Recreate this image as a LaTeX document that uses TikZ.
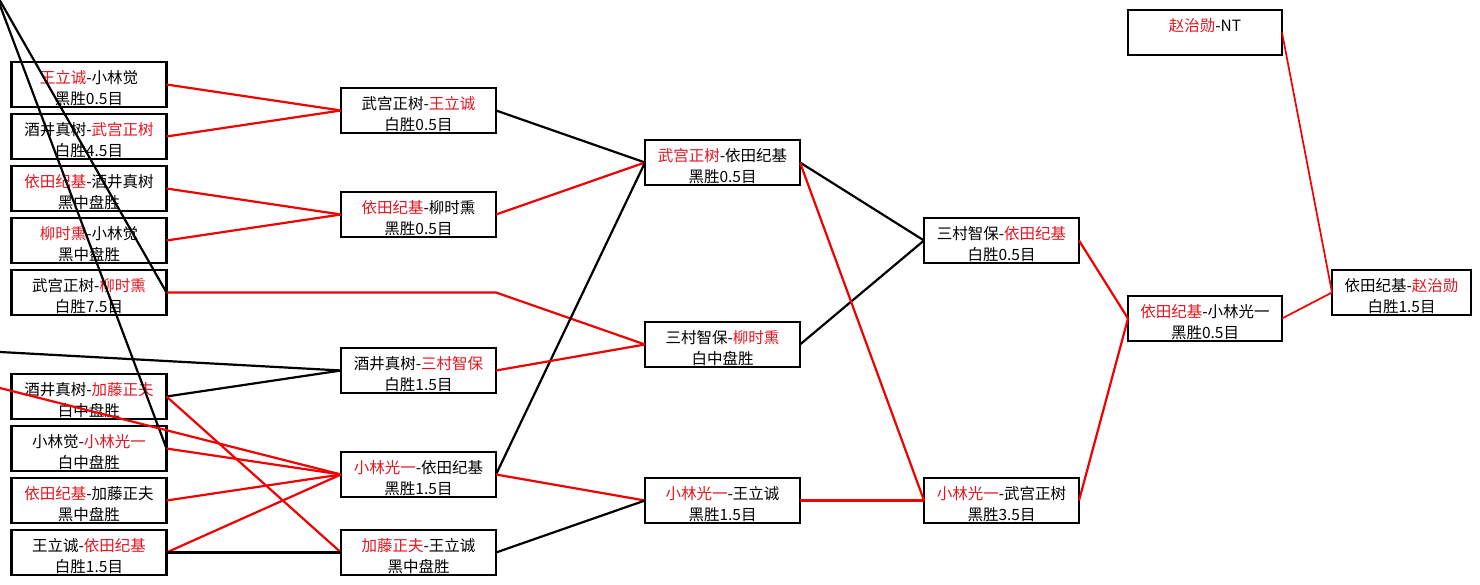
\documentclass[tikz,border=0pt]{standalone}
\usepackage{fontspec}
\newfontfamily\cjk{Noto Sans CJK SC}
\definecolor{rtxt}{RGB}{228,22,32}
\definecolor{rline}{RGB}{240,0,0}
\newcommand\rd[1]{\textcolor{rtxt}{#1}}
\newcommand\tp{\rule{0pt}{20pt}}
\tikzset{
  box/.style={draw=black, line width=2.2pt, rectangle, inner sep=0pt, outer sep=0pt,
    minimum width=155pt, minimum height=45pt, align=center,
    font=\cjk\fontsize{15.5}{20.5}\selectfont},
  rl/.style={draw=rline, line width=2.2pt},
  bl/.style={draw=black, line width=2.2pt},
  rlt/.style={draw=rline, line width=1.7pt},
}
\begin{document}
\begin{tikzpicture}[x=1pt,y=-1pt]
\useasboundingbox (0,0) rectangle (1480,585);
\fill[white] (0,0) rectangle (1480,585);
% column 1
\node[box] (b1) at (89,84.5) {\tp\rd{王立诚}-小林觉\\黑胜0.5目};
\node[box] (b2) at (89,136.5) {\tp 酒井真树-\rd{武宫正树}\\白胜4.5目};
\node[box] (b3) at (89,188.5) {\tp\rd{依田纪基}-酒井真树\\黑中盘胜};
\node[box] (b4) at (89,240.5) {\tp\rd{柳时熏}-小林觉\\黑中盘胜};
\node[box] (b5) at (89,292.5) {\tp 武宫正树-\rd{柳时熏}\\白胜7.5目};
\node[box] (b6) at (89,396.5) {\tp 酒井真树-\rd{加藤正夫}\\白中盘胜};
\node[box] (b7) at (89,448.5) {\tp 小林觉-\rd{小林光一}\\白中盘胜};
\node[box] (b8) at (89,500.5) {\tp\rd{依田纪基}-加藤正夫\\黑中盘胜};
\node[box] (b9) at (89,552.5) {\tp 王立诚-\rd{依田纪基}\\白胜1.5目};
% column 2
\node[box] (A) at (418.5,110.5) {\tp 武宫正树-\rd{王立诚}\\白胜0.5目};
\node[box] (B) at (418.5,214.5) {\tp\rd{依田纪基}-柳时熏\\黑胜0.5目};
\node[box] (C) at (418.5,370.5) {\tp 酒井真树-\rd{三村智保}\\白胜1.5目};
\node[box] (D) at (418.5,474.5) {\tp\rd{小林光一}-依田纪基\\黑胜1.5目};
\node[box] (E) at (418.5,552.5) {\tp\rd{加藤正夫}-王立诚\\黑中盘胜};
% column 3
\node[box] (F) at (722.5,162.5) {\tp\rd{武宫正树}-依田纪基\\黑胜0.5目};
\node[box] (G) at (722.5,344.5) {\tp 三村智保-\rd{柳时熏}\\白中盘胜};
\node[box] (H) at (722.5,500.5) {\tp\rd{小林光一}-王立诚\\黑胜1.5目};
% column 4
\node[box] (I) at (1001.5,240.5) {\tp 三村智保-\rd{依田纪基}\\白胜0.5目};
\node[box] (J) at (1001.5,500.5) {\tp\rd{小林光一}-武宫正树\\黑胜3.5目};
% column 5
\node[box, minimum width=154pt] (K) at (1205,32.5) {\tp\rd{赵治勋}-NT\\\rule[-2pt]{0pt}{10pt}};
\node[box, minimum width=154pt] (L) at (1205,318.5) {\tp\rd{依田纪基}-小林光一\\黑胜0.5目};
% column 6
\node[box, minimum width=139pt] (M) at (1401.5,292.5) {\tp 依田纪基-\rd{赵治勋}\\白胜1.5目};
% free ends
\coordinate (tl1) at (-2,0);
\coordinate (tl2) at (-1,-1);
\coordinate (lf1) at (0,352);
\coordinate (lf2) at (0,388);
\coordinate (bend5) at (496,292.5);
% round 1 to 2
\draw[rl] (b1.east) -- (A.west);
\draw[rl] (b2.east) -- (A.west);
\draw[rl] (b3.east) -- (B.west);
\draw[rl] (b4.east) -- (B.west);
\draw[bl] (tl1) -- (b7.east);
\draw[bl] (tl2) -- (b5.east);
\draw[bl] (lf1) -- (C.west);
\draw[bl] (b6.east) -- (C.west);
\draw[rl] (lf2) -- (D.west);
\draw[rl] (b7.east) -- (D.west);
\draw[rl] (b8.east) -- (D.west);
\draw[rl] (b9.east) -- (D.west);
\draw[rl] (b6.east) -- (E.west);
\draw[bl] (b9.east) -- (E.west);
\draw[rl] (b5.east) -- (bend5) -- (G.west);
% round 2 to 3
\draw[bl] (A.east) -- (F.west);
\draw[rl] (B.east) -- (F.west);
\draw[bl] (D.east) -- (F.west);
\draw[rl] (C.east) -- (G.west);
\draw[rl] (D.east) -- (H.west);
\draw[bl] (E.east) -- (H.west);
% round 3 to 4
\draw[bl] (F.east) -- (I.west);
\draw[bl] (G.east) -- (I.west);
\draw[rl] (F.east) -- (J.west);
\draw[rl] (H.east) -- (J.west);
% round 4 onwards
\draw[rl] (I.east) -- (L.west);
\draw[rl] (J.east) -- (L.west);
\draw[rlt] (L.east) -- (M.west);
\draw[rlt] (K.east) -- (M.west);
\end{tikzpicture}
\end{document}
